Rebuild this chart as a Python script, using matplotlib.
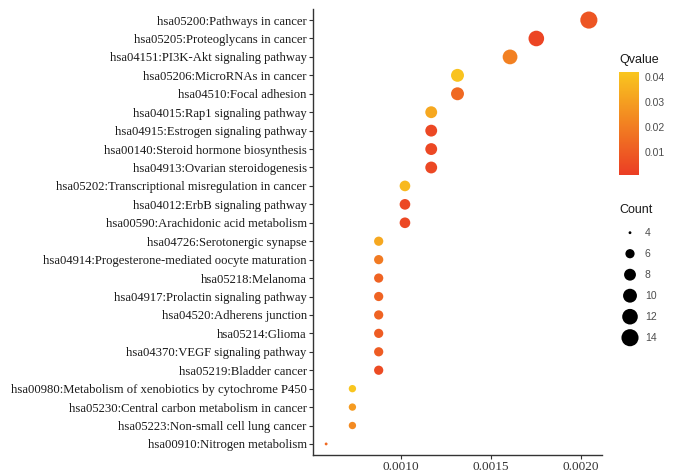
import numpy as np
import matplotlib
matplotlib.use("Agg")
import matplotlib.pyplot as plt
from matplotlib.colors import LinearSegmentedColormap, Normalize
from matplotlib.cm import ScalarMappable

# KEGG pathway enrichment, top to bottom
terms = [
    "hsa05200:Pathways in cancer",
    "hsa05205:Proteoglycans in cancer",
    "hsa04151:PI3K-Akt signaling pathway",
    "hsa05206:MicroRNAs in cancer",
    "hsa04510:Focal adhesion",
    "hsa04015:Rap1 signaling pathway",
    "hsa04915:Estrogen signaling pathway",
    "hsa00140:Steroid hormone biosynthesis",
    "hsa04913:Ovarian steroidogenesis",
    "hsa05202:Transcriptional misregulation in cancer",
    "hsa04012:ErbB signaling pathway",
    "hsa00590:Arachidonic acid metabolism",
    "hsa04726:Serotonergic synapse",
    "hsa04914:Progesterone-mediated oocyte maturation",
    "hsa05218:Melanoma",
    "hsa04917:Prolactin signaling pathway",
    "hsa04520:Adherens junction",
    "hsa05214:Glioma",
    "hsa04370:VEGF signaling pathway",
    "hsa05219:Bladder cancer",
    "hsa00980:Metabolism of xenobiotics by cytochrome P450",
    "hsa05230:Central carbon metabolism in cancer",
    "hsa05223:Non-small cell lung cancer",
    "hsa00910:Nitrogen metabolism",
]
counts = [14, 12, 11, 9, 9, 8, 8, 8, 8, 7, 7, 7, 6, 6, 6, 6, 6, 6, 6, 6, 5, 5, 5, 4]
ratio = [0.002044, 0.001752, 0.001606, 0.001314, 0.001314, 0.001168, 0.001168,
         0.001168, 0.001168, 0.001022, 0.001022, 0.001022, 0.000876, 0.000876,
         0.000876, 0.000876, 0.000876, 0.000876, 0.000876, 0.000876, 0.000730,
         0.000730, 0.000730, 0.000584]
qvalue = [0.008, 0.003, 0.021, 0.041, 0.014, 0.033, 0.004, 0.004, 0.004, 0.038,
          0.004, 0.004, 0.033, 0.019, 0.012, 0.012, 0.012, 0.010, 0.010, 0.005,
          0.042, 0.029, 0.024, 0.014]
legend_counts = [4, 6, 8, 10, 12, 14]

cmap = LinearSegmentedColormap.from_list("qv", ["#EB3D24", "#F9C61F"])
norm = Normalize(vmin=0.0007, vmax=0.042)


def dot_size(c):
    # ggplot-like area scale, diameter in points
    d = 2.85 * (1 + 5 * np.sqrt((np.asarray(c) - 4) / 10.0)) * 0.72
    return d ** 2


W, H = 694, 472
fig = plt.figure(figsize=(W / 100, H / 100), dpi=100)
ax = fig.add_axes([313 / W, 1 - 455 / H, (602 - 313) / W, (455 - 9) / H])

n = len(terms)
y = np.arange(n)[::-1]
ax.scatter(ratio, y, s=dot_size(counts), c=qvalue, cmap=cmap, norm=norm,
           edgecolors="none", zorder=3)

ax.set_ylim(-0.6, n - 0.4)
ax.set_xlim(0.000511, 0.002117)
ax.set_yticks(y)
ax.set_yticklabels(terms, family="Liberation Serif", fontsize=9.1, color="#1a1a1a")
ax.set_xticks([0.0010, 0.0015, 0.0020])
ax.set_xticklabels(["0.0010", "0.0015", "0.0020"], family="Liberation Serif",
                   fontsize=9.5, color="#333333")
for s in ["top", "right"]:
    ax.spines[s].set_visible(False)
for s in ["left", "bottom"]:
    ax.spines[s].set_color("#333333")
    ax.spines[s].set_linewidth(1.0)
ax.tick_params(length=3, width=0.8, color="#333333", pad=1.5)

# Qvalue colour bar
cax = fig.add_axes([619 / W, 1 - 175 / H, 20 / W, 103 / H])
cb = fig.colorbar(ScalarMappable(norm=norm, cmap=cmap), cax=cax)
cb.outline.set_visible(False)
cb.set_ticks([0.01, 0.02, 0.03, 0.04])
cb.ax.tick_params(length=0, labelsize=7.5, labelcolor="#4d4d4d", pad=4)
for lab in cb.ax.get_yticklabels():
    lab.set_family("Liberation Sans")
fig.text(619 / W, 1 - 60 / H, "Qvalue", family="Liberation Sans", fontsize=9,
         color="#1a1a1a", va="center", ha="left")

# Count size legend
lax = fig.add_axes([0, 0, 1, 1], facecolor="none")
lax.set_xlim(0, W)
lax.set_ylim(H, 0)
lax.axis("off")
fig.text(619 / W, 1 - 210 / H, "Count", family="Liberation Sans", fontsize=9,
         color="#1a1a1a", va="center", ha="left")
ly = 232.7 + 21 * np.arange(len(legend_counts))
lax.scatter([630] * len(legend_counts), ly, s=dot_size(legend_counts), c="black",
            edgecolors="none")
for yy, c in zip(ly, legend_counts):
    lax.text(645, yy, str(c), family="Liberation Sans", fontsize=7.5,
             color="#4d4d4d", va="center", ha="left")

fig.savefig("out.png", dpi=100)
